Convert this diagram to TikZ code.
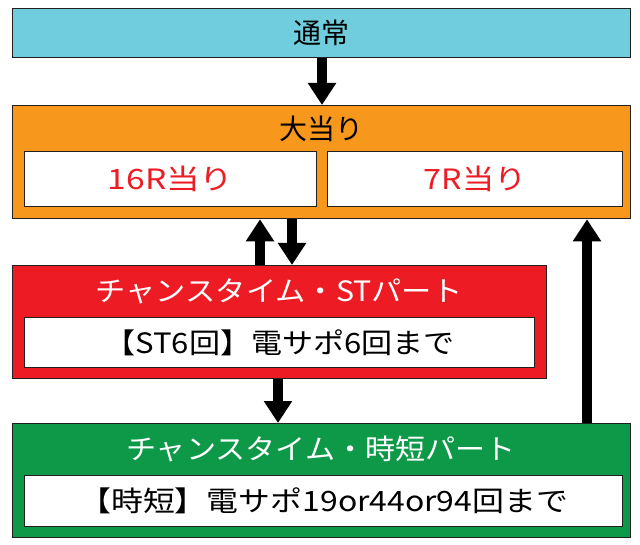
\documentclass[tikz,border=0pt]{standalone}
\usepackage{fontspec}
\usepackage{graphicx}
\setmainfont{Noto Sans CJK JP}
\usetikzlibrary{arrows.meta}
\definecolor{cyanbox}{RGB}{111,205,221}
\definecolor{orangebox}{RGB}{247,152,29}
\definecolor{redbox}{RGB}{237,28,36}
\definecolor{greenbox}{RGB}{13,153,72}
\definecolor{edge}{RGB}{35,31,32}
\tikzset{
  outerbox/.style={draw=edge, line width=1.3pt, inner sep=0pt, anchor=north west},
  innerbox/.style={draw=edge, fill=white, line width=1.3pt, inner sep=0pt, anchor=north west},
  lbl/.style={font=\fontsize{28}{28}\selectfont, inner sep=0pt},
  arr/.style={line width=10pt, -{Triangle[width=27pt,length=22pt]}}
}
\begin{document}
\begin{tikzpicture}[x=1pt,y=-1pt]
\useasboundingbox (0,0) rectangle (640,545);
% boxes
\node[outerbox, fill=cyanbox, minimum width=618pt, minimum height=49pt] (tsujo) at (12,8) {};
\node[lbl] (tsujot) at (321,33) {通常};
\node[outerbox, fill=orangebox, minimum width=618pt, minimum height=113pt] (oatari) at (12,105) {};
\node[lbl] (oatarit) at (321,129) {大当り};
\node[innerbox, minimum width=292pt, minimum height=55pt] (r16) at (24,151) {};
\node[lbl, text=redbox] (r16t) at (r16.center) {\scalebox{1.2}[1]{16R当り}};
\node[innerbox, minimum width=295pt, minimum height=55pt] (r7) at (327,151) {};
\node[lbl, text=redbox] (r7t) at (r7.center) {\scalebox{1.15}[1]{7R当り}};
\node[outerbox, fill=redbox, minimum width=534pt, minimum height=113pt] (st) at (12,265) {};
\node[lbl, text=white] (stt) at (279,291) {\scalebox{1.08}[1]{チャンスタイム・STパート}};
\node[innerbox, minimum width=510pt, minimum height=50pt] (stin) at (24,317) {};
\node[lbl] (stint) at (stin.center) {\scalebox{1.11}[1]{【ST6回】電サポ6回まで}};
\node[outerbox, fill=greenbox, minimum width=618pt, minimum height=114pt] (jt) at (12,423) {};
\node[lbl, text=white] (jtt) at (321,449) {\scalebox{1.075}[1]{チャンスタイム・時短パート}};
\node[innerbox, minimum width=598pt, minimum height=51pt] (jtin) at (24,475) {};
\node[lbl] (jtint) at (jtin.center) {\scalebox{1.14}[1]{【時短】電サポ19or44or94回まで}};
% arrows
\coordinate (c1) at (322,0);
\coordinate (c2) at (260,0);
\coordinate (c3) at (292,0);
\coordinate (c4) at (278,0);
\coordinate (c5) at (587,0);
\draw[arr] (tsujo.south -| c1) -- (oatari.north -| c1);
\draw[arr] (st.north -| c2) -- (oatari.south -| c2);
\draw[arr] (oatari.south -| c3) -- (st.north -| c3);
\draw[arr] (st.south -| c4) -- (jt.north -| c4);
\draw[arr] (jt.north -| c5) -- (oatari.south -| c5);
\end{tikzpicture}
\end{document}
